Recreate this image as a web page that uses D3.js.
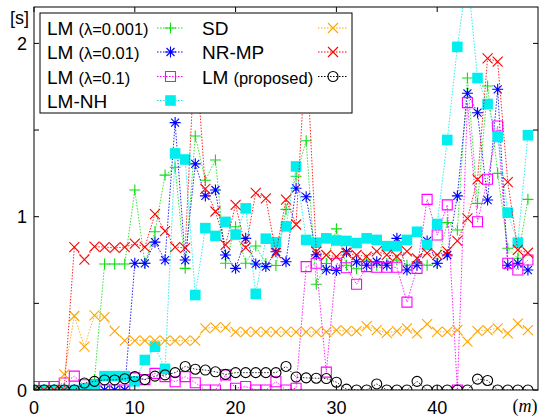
<!DOCTYPE html>
<html><head><meta charset="utf-8">
<script src="https://cdn.jsdelivr.net/npm/d3@7"></script>
<style>
html,body{margin:0;padding:0;background:#fff;}
svg{display:block;font-family:"Liberation Sans",Arial,sans-serif;}
</style></head>
<body>
<svg id="c" width="539" height="419"></svg>
<script>
// ---- data ----
const mValues = d3.range(0, 50);
const xTicks = [0, 10, 20, 30, 40];
const yTicks = [0, 0.5, 1, 1.5, 2];
const yTickLabels = ["0", "", "1", "", "2"];

const lm0001 = [0,0,0,0,0,0,0.06,0.727,0.727,0.727,1.154,0.731,0.913,1.24,1.285,0.702,1.466,1.21,1.327,0.731,
  0.942,0.731,0.831,0.73,0.718,1.042,1.233,1.438,0.61,0.73,0.93,0.72,0.7,0.75,0.72,0.73,0.75,0.72,0.74,0.72,
  0.73,0.966,0.923,1.8,1.077,1.754,1.25,0.818,0.76,1.1];
const lm001 = [0,0,0,0,0,0,0,0,0,0,0.731,0.731,0.853,0.75,1.543,0.75,1.305,1.12,1.154,0.779,
  0.702,0.875,0.727,0.712,0.798,0.74,1.164,1.115,0.78,0.694,0.69,0.798,0.74,0.72,0.74,0.72,0.875,0.692,0.72,0.86,
  0.731,0.779,1.12,1.712,1.6,1.096,1.735,0.72,0.731,0.692];
const lm01 = [0.02,0.02,0.02,0.04,0.08,0.03,0,0,0,0,0.07,0.06,0.096,0.077,0.048,0.077,0.042,0,0,0.087,
  0.01,0.02,0,0,0.048,0,0.01,0.712,0.731,0.103,0.731,0.705,0.61,0.712,0.708,0.708,0.708,0.507,0.702,1.1,
  0.894,1.068,0,1.658,0.971,1.216,1.523,0.731,0.692,0.75];
const lmNH = [0,0,0,0,0,0.01,0.03,0.08,0.08,0.08,0.05,0.173,0.25,0.122,1.365,1.33,0.548,0.934,0.889,0.97,
  0.897,1.048,0.555,0.873,0.852,0.944,1.29,0.866,0.85,0.875,0.863,0.86,0.848,0.875,0.866,0.83,0.83,0.866,0.913,0.837,
  0.958,1.443,1.98,2.4,1.8,1.65,1.46,1.023,0.85,1.47];
const sd = [0,0,0,0.09,0.427,0.25,0.43,0.42,0.34,0.285,0.285,0.285,0.285,0.285,0.285,0.285,0.285,0.356,0.362,0.362,
  0.335,0.335,0.335,0.335,0.335,0.335,0.335,0.335,0.335,0.335,0.346,0.34,0.34,0.369,0.346,0.33,0.34,0.356,0.327,0.38,
  0.336,0.336,0.346,0.279,0.34,0.346,0.356,0.327,0.383,0.346];
const nrmp = [0,0,0,0,0.825,0.752,0.827,0.825,0.82,0.825,0.844,0.825,1.015,0.917,0.825,0.82,2.0,1.16,1.03,0.837,
  1.068,0.822,1.137,1.106,0.79,1.098,0.955,2.0,0.798,0.779,0.769,0.79,0.779,0.77,0.8,0.78,0.77,0.8,0.76,0.79,
  0.78,0.8,0.861,0.99,1.215,1.914,1.895,1.2,0.808,0.792];
const lmProposed = [0,0,0,0,0,0.04,0.05,0.058,0.058,0.065,0.077,0.06,0.08,0.087,0.1,0.136,0.12,0.115,0.105,0.09,
  0.1,0.1,0.1,0.1,0.1,0.136,0.075,0.07,0.068,0.066,0.045,0.005,0,0,0.035,0,0,0,0.05,0,
  0,0,0,0,0.063,0.055,0,0,0,0];

const seriesNames = ["LM", "LM", "LM", "LM-NH", "SD", "NR-MP", "LM"];
const seriesSub = ["(λ=0.001)", "(λ=0.01)", "(λ=0.1)", "", "", "", "(proposed)"];
const seriesColors = ["#11dd11", "#0000ff", "#ff00ff", "#00eeee", "#ffa500", "#ff0000", "#000000"];
const seriesMarkers = ["plus", "star", "square", "fsquare", "cross", "cross", "circle"];
const seriesData = [lm0001, lm001, lm01, lmNH, sd, nrmp, lmProposed];

// ---- drawing ----
const svg = d3.select("#c");
const L = 34, R = 538, T = 7, B = 390;
const x = d3.scaleLinear().domain([0, 50]).range([L, R]);
const y = d3.scaleLinear().domain([0, 2.21]).range([B, T]);

svg.append("defs").append("clipPath").attr("id", "clip")
  .append("rect").attr("x", L).attr("y", T).attr("width", R - L).attr("height", B - T);

function markerPath(type) {
  switch (type) {
    case "plus": return "M-5.5,0H5.5M0,-5.5V5.5";
    case "cross": return "M-5,-5L5,5M-5,5L5,-5";
    case "star": return "M-5.5,0H5.5M0,-5.5V5.5M-4,-4L4,4M-4,4L4,-4";
    case "square": return "M-5,-5H5V5H-5Z";
    case "fsquare": return "M-5.3,-5.3H5.3V5.3H-5.3Z";
    case "circle": return "M5,0A5,5 0 1,1 -5,0A5,5 0 1,1 5,0Z";
  }
}
function drawMarker(g, type, color, cx, cy) {
  const p = g.append("path").attr("d", markerPath(type)).attr("transform", `translate(${cx},${cy})`);
  if (type === "fsquare") p.attr("fill", color).attr("stroke", "none");
  else p.attr("fill", "none").attr("stroke", color).attr("stroke-width", 1.1);
}

const plot = svg.append("g").attr("clip-path", "url(#clip)");

seriesData.forEach((vals, i) => {
  const line = d3.line().x((d, j) => x(mValues[j])).y(d => y(d));
  plot.append("path").datum(vals).attr("d", line)
    .attr("fill", "none").attr("stroke", seriesColors[i]).attr("stroke-width", 1)
    .attr("stroke-dasharray", "1.5,1.5").attr("opacity", 0.85);
  const g = plot.append("g");
  vals.forEach((v, j) => drawMarker(g, seriesMarkers[i], seriesColors[i], x(mValues[j]), y(v)));
});

// axes frame + ticks
const ax = svg.append("g");
ax.append("rect").attr("x", L).attr("y", T).attr("width", R - L).attr("height", B - T)
  .attr("fill", "none").attr("stroke", "#000").attr("stroke-width", 1);
xTicks.forEach(t => {
  ax.append("line").attr("x1", x(t)).attr("x2", x(t)).attr("y1", B).attr("y2", B - 5).attr("stroke", "#000");
  ax.append("line").attr("x1", x(t)).attr("x2", x(t)).attr("y1", T).attr("y2", T + 5).attr("stroke", "#000");
  ax.append("text").attr("x", x(t)).attr("y", 414).attr("text-anchor", "middle")
    .attr("font-size", 18).text(t);
});
yTicks.forEach((t, i) => {
  ax.append("line").attr("x1", L).attr("x2", L + 5).attr("y1", y(t)).attr("y2", y(t)).attr("stroke", "#000");
  ax.append("line").attr("x1", R).attr("x2", R - 5).attr("y1", y(t)).attr("y2", y(t)).attr("stroke", "#000");
  if (yTickLabels[i]) ax.append("text").attr("x", 27).attr("y", y(t) + 6.5).attr("text-anchor", "end")
    .attr("font-size", 18).text(yTickLabels[i]);
});
ax.append("text").attr("x", 10).attr("y", 24).attr("font-size", 18).text("[s]");
ax.append("text").attr("x", 525).attr("y", 412).attr("text-anchor", "middle")
  .attr("font-family", "'Liberation Serif','DejaVu Serif',serif").attr("font-size", 18)
  .html('(<tspan font-style="italic">m</tspan>)');

// legend
const lg = svg.append("g");
lg.append("rect").attr("x", 40).attr("y", 13).attr("width", 312).attr("height", 100)
  .attr("fill", "#fff").attr("stroke", "#000").attr("stroke-width", 1);
const rowY = [28, 52, 76.5, 100.5];
seriesData.forEach((vals, i) => {
  const col = i < 4 ? 0 : 1;
  const row = i < 4 ? i : i - 4;
  const tx = col === 0 ? 47 : 202;
  const lx1 = col === 0 ? 157 : 318, lx2 = col === 0 ? 184 : 348;
  const cy = rowY[row];
  const t = lg.append("text").attr("x", tx).attr("y", cy + 7).attr("font-size", 19);
  t.append("tspan").text(seriesNames[i]);
  if (seriesSub[i]) t.append("tspan").attr("font-size", 16.5).attr("dx", 5).text(seriesSub[i]);
  lg.append("line").attr("x1", lx1).attr("x2", lx2).attr("y1", cy).attr("y2", cy)
    .attr("stroke", seriesColors[i]).attr("stroke-dasharray", "1.5,1.5").attr("stroke-width", 1);
  drawMarker(lg, seriesMarkers[i], seriesColors[i], (lx1 + lx2) / 2, cy);
});
</script>
</body></html>
